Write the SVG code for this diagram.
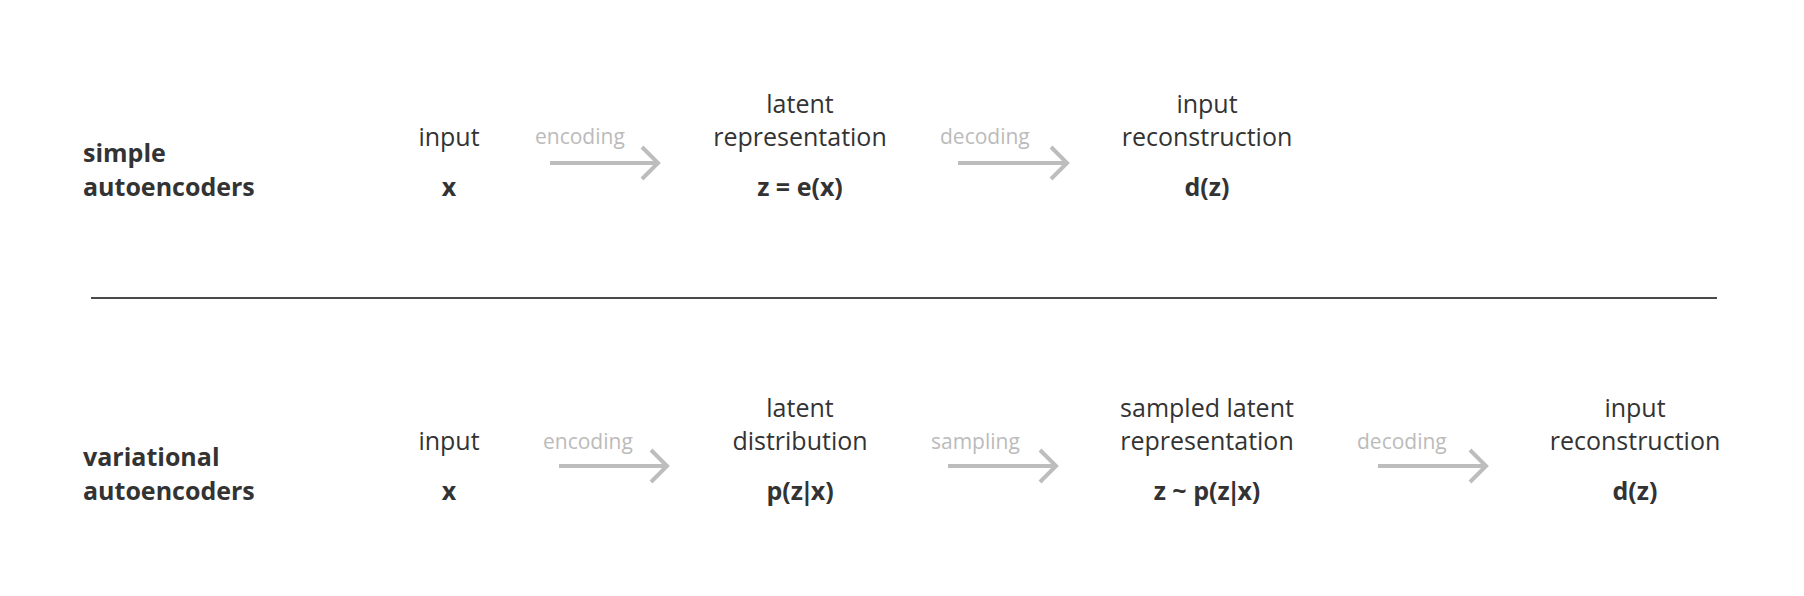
<svg xmlns="http://www.w3.org/2000/svg" width="1804" height="596" viewBox="0 0 1804 596">
<style>
.title{font-family:"Open Sans","Liberation Sans",sans-serif;font-weight:bold;font-size:25px;fill:#333}
.lbl{font-family:"Open Sans","Liberation Sans",sans-serif;font-size:25px;fill:#333;text-anchor:middle}
.val{font-family:"Open Sans","Liberation Sans",sans-serif;font-weight:bold;font-size:25px;fill:#333;text-anchor:middle}
.op{font-family:"Open Sans","Liberation Sans",sans-serif;font-size:21px;fill:#bbb}
.arr{fill:none;stroke:#bdbdbd;stroke-width:4}
</style>
<rect width="1804" height="596" fill="#fff"/>
<g id="row-simple">
<text class="title" x="83" y="162">simple</text>
<text class="title" x="83" y="196">autoencoders</text>
</g>
<g id="s-input">
<text class="lbl" x="449" y="146">input</text>
<text class="val" x="449" y="196">x</text>
</g>
<g id="s-latent">
<text class="lbl" x="800" y="113">latent</text>
<text class="lbl" x="800" y="146">representation</text>
<text class="val" x="800" y="196">z = e(x)</text>
</g>
<g id="s-recon">
<text class="lbl" x="1207" y="113">input</text>
<text class="lbl" x="1207" y="146">reconstruction</text>
<text class="val" x="1207" y="196">d(z)</text>
</g>
<line id="divider" x1="91" y1="298" x2="1717" y2="298" stroke="#4a4a4a" stroke-width="2"/>
<g id="row-variational">
<text class="title" x="83" y="466">variational</text>
<text class="title" x="83" y="500">autoencoders</text>
</g>
<g id="v-input">
<text class="lbl" x="449" y="450">input</text>
<text class="val" x="449" y="500">x</text>
</g>
<g id="v-latent">
<text class="lbl" x="800" y="417">latent</text>
<text class="lbl" x="800" y="450">distribution</text>
<text class="val" x="800" y="500">p(z<tspan dx="-3">|</tspan><tspan dx="-3">x)</tspan></text>
</g>
<g id="v-sampled">
<text class="lbl" x="1207" y="417">sampled latent</text>
<text class="lbl" x="1207" y="450">representation</text>
<text class="val" x="1207" y="500">z ~ p(z<tspan dx="-3">|</tspan><tspan dx="-3">x)</tspan></text>
</g>
<g id="v-recon">
<text class="lbl" x="1635" y="417">input</text>
<text class="lbl" x="1635" y="450">reconstruction</text>
<text class="val" x="1635" y="500">d(z)</text>
</g>
<g id="connectors">
<text class="op" x="535" y="144">encoding</text>
<path class="arr" d="M550 163H657M642 147L658 163L642 179"/>
<text class="op" x="940" y="144">decoding</text>
<path class="arr" d="M958 163H1066M1051 147L1067 163L1051 179"/>
<text class="op" x="543" y="449">encoding</text>
<path class="arr" d="M559 466H666M651 450L667 466L651 482"/>
<text class="op" x="931" y="449">sampling</text>
<path class="arr" d="M948 466H1055M1040 450L1056 466L1040 482"/>
<text class="op" x="1357" y="449">decoding</text>
<path class="arr" d="M1378 466H1485M1470 450L1486 466L1470 482"/>
</g>
</svg>
